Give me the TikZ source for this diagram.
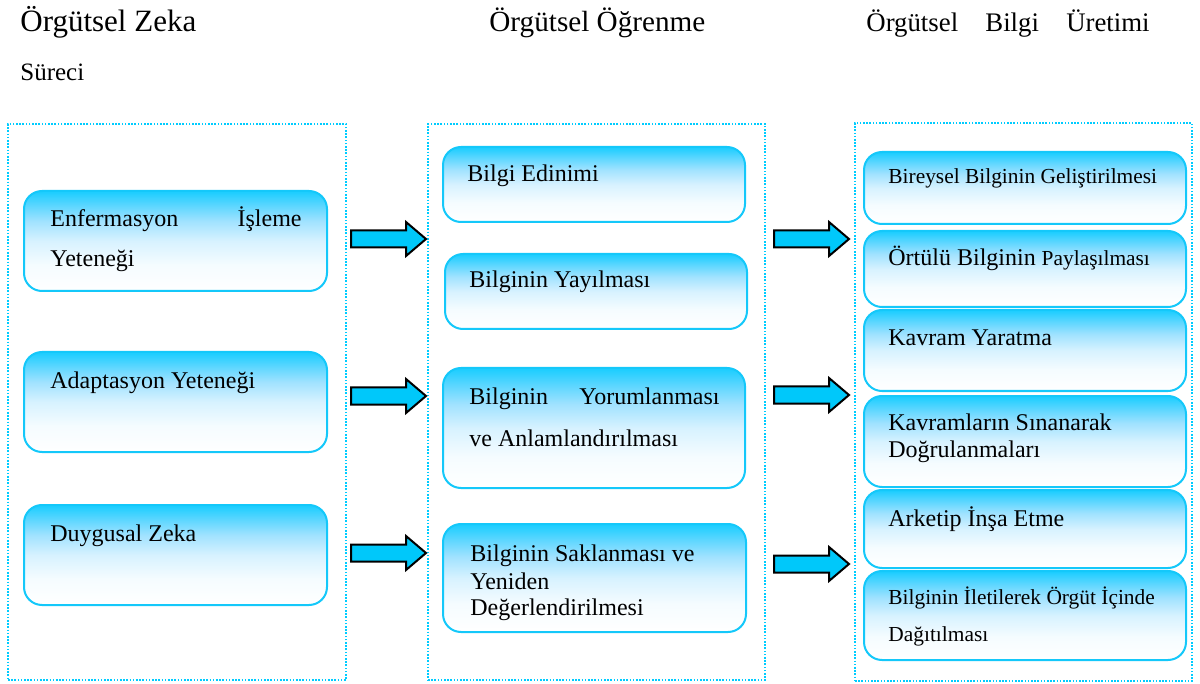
\documentclass[tikz,border=0pt]{standalone}
\usepackage{fontspec}
\setmainfont{Liberation Serif}
\usetikzlibrary{fit}
\definecolor{sky}{RGB}{0,204,255}
\definecolor{skyline}{RGB}{20,200,250}
\definecolor{arrowfill}{RGB}{0,200,250}
\definecolor{fadeA}{RGB}{245,252,255}
\definecolor{fadeB}{RGB}{215,242,255}
\definecolor{fadeC}{RGB}{160,226,255}
\definecolor{fadeD}{RGB}{90,214,255}
\definecolor{fadeE}{RGB}{25,205,255}
% vertical fade used by the rounded boxes: strong cyan at the top, white at the bottom
\pgfdeclareverticalshading{boxfade}{100bp}{%
  color(0bp)=(white);
  color(25bp)=(white);
  color(38bp)=(fadeA);
  color(50bp)=(fadeB);
  color(60bp)=(fadeC);
  color(68bp)=(fadeD);
  color(75bp)=(fadeE);
  color(100bp)=(fadeE)}
\tikzset{
  frame/.style={draw=sky, line width=0.8pt, dash pattern=on 0.8pt off 0.8pt, inner sep=0pt},
  roundbox/.style={draw=skyline, line width=1pt, rounded corners=9pt, shading=boxfade, inner sep=0pt},
  txt/.style={anchor=base west, inner sep=0pt, font=\fontsize{12}{14}\selectfont},
  smalltxt/.style={anchor=base west, inner sep=0pt, font=\fontsize{10.7}{13}\selectfont},
  arrowstyle/.style={draw=black, line width=1pt, fill=arrowfill, line join=miter},
  fatarrow/.pic={\path[arrowstyle] (0,-8.5) -- (55,-8.5) -- (55,-17) -- (75,0) -- (55,17) -- (55,8.5) -- (0,8.5) -- cycle;}
}
\begin{document}
\begin{tikzpicture}[x=0.5pt,y=-0.5pt]
\useasboundingbox (0,0) rectangle (1200,684);

% column headings
\node[anchor=base west, inner sep=0pt, font=\fontsize{15.5}{18}\selectfont] (h1) at (20,32) {Örgütsel Zeka};
\node[anchor=base west, inner sep=0pt, font=\fontsize{12.5}{15}\selectfont] (h1b) at (20,81) {Süreci};
\node[anchor=base west, inner sep=0pt, font=\fontsize{14.6}{17}\selectfont] (h2) at (489,32) {Örgütsel Öğrenme};
\node[anchor=base west, inner sep=0pt, font=\fontsize{13.4}{16}\selectfont] (h3a) at (866,32) {Örgütsel};
\node[anchor=base west, inner sep=0pt, font=\fontsize{13.4}{16}\selectfont] (h3b) at (985,32) {Bilgi};
\node[anchor=base east, inner sep=0pt, font=\fontsize{13.4}{16}\selectfont] (h3c) at (1150,32) {Üretimi};

% dotted column frames
\node[frame, fit={(8,124)(346,680)}] (c1) {};
\node[frame, fit={(428,124)(765,680)}] (c2) {};
\node[frame, fit={(855,123)(1192,681)}] (c3) {};

% left column
\node[roundbox, fit={(24,191)(327,291)}] (l1) {};
\node[txt] (l1a) at (50,227) {Enfermasyon};
\node[txt, anchor=base east] (l1b) at (302,227) {İşleme};
\node[txt] (l1c) at (50,267) {Yeteneği};

\node[roundbox, fit={(24,352)(327,452)}] (l2) {};
\node[txt] (l2a) at (50,388) {Adaptasyon Yeteneği};

\node[roundbox, fit={(24,505)(327,605)}] (l3) {};
\node[txt] (l3a) at (50,541) {Duygusal Zeka};

% middle column
\node[roundbox, fit={(443,147)(745,222)}] (m1) {};
\node[txt] (m1a) at (467,182) {Bilgi Edinimi};

\node[roundbox, fit={(445,254)(747,329)}] (m2) {};
\node[txt] (m2a) at (469,288) {Bilginin Yayılması};

\node[roundbox, fit={(443,368)(745,488)}] (m3) {};
\node[txt] (m3a) at (469,404) {Bilginin};
\node[txt, anchor=base east] (m3b) at (720,404) {Yorumlanması};
\node[txt] (m3c) at (469,446) {ve Anlamlandırılması};

\node[roundbox, fit={(443,524)(746,632)}] (m4) {};
\node[txt] (m4a) at (470,561) {Bilginin Saklanması ve};
\node[txt] (m4b) at (470,589) {Yeniden};
\node[txt] (m4c) at (470,615) {Değerlendirilmesi};

% right column
\node[roundbox, fit={(864,152)(1186,224)}] (r1) {};
\node[smalltxt] (r1a) at (888,184) {Bireysel Bilginin Geliştirilmesi};

\node[roundbox, fit={(864,231)(1186,307)}] (r2) {};
\node[txt] (r2a) at (888,266) {Örtülü Bilginin \fontsize{10.7}{13}\selectfont Paylaşılması};

\node[roundbox, fit={(864,310)(1186,391)}] (r3) {};
\node[txt] (r3a) at (888,346) {Kavram Yaratma};

\node[roundbox, fit={(864,396)(1186,487)}] (r4) {};
\node[txt] (r4a) at (888,430) {Kavramların Sınanarak};
\node[txt] (r4b) at (888,458) {Doğrulanmaları};

\node[roundbox, fit={(864,490)(1186,568)}] (r5) {};
\node[txt] (r5a) at (888,526) {Arketip İnşa Etme};

\node[roundbox, fit={(864,571)(1186,660)}] (r6) {};
\node[smalltxt] (r6a) at (888,604) {Bilginin İletilerek Örgüt İçinde};
\node[smalltxt] (r6b) at (888,641) {Dağıtılması};

% block arrows between the columns
\pic at (351,239) {fatarrow};
\pic at (351,396) {fatarrow};
\pic at (351,553) {fatarrow};
\pic at (774,239) {fatarrow};
\pic at (774,395) {fatarrow};
\pic at (774,564) {fatarrow};
\end{tikzpicture}
\end{document}
